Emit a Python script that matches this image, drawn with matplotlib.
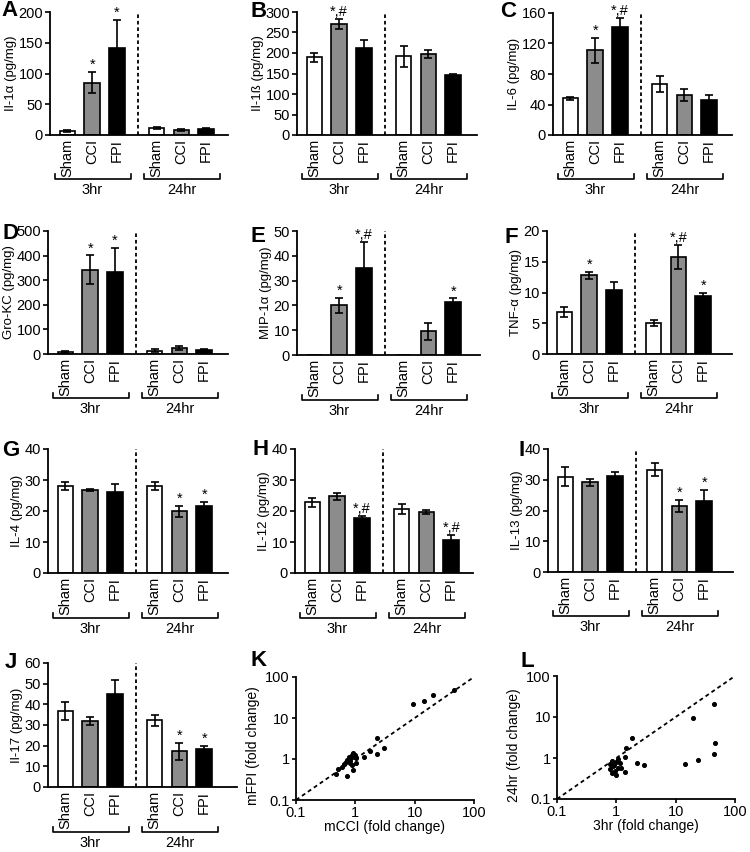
import matplotlib
matplotlib.use('Agg')
import matplotlib.pyplot as plt
import matplotlib.transforms as mtransforms
import matplotlib.ticker as mticker
import numpy as np

plt.rcParams['font.family'] = ['Liberation Sans', 'DejaVu Sans']

# ---------------- data ----------------
groups = ['Sham', 'CCI', 'FPI', 'Sham', 'CCI', 'FPI']
timepoints = ['3hr', '24hr']

il1a_mean = [6, 85, 142, 11, 8, 10]
il1a_sem = [1.5, 17, 45, 2, 2, 1]
il1a_sig = ['', '*', '*', '', '', '']

il1b_mean = [190, 270, 212, 192, 198, 146]
il1b_sem = [11, 12, 20, 26, 10, 4]
il1b_sig = ['', '*,#', '', '', '', '']

il6_mean = [48, 111, 141, 67, 52, 46]
il6_sem = [2, 16, 12, 10, 8, 6]
il6_sig = ['', '*', '*,#', '', '', '']

grokc_mean = [8, 343, 332, 14, 25, 17]
grokc_sem = [3, 58, 98, 5, 8, 3]
grokc_sig = ['', '*', '*', '', '', '']

mip1a_mean = [0, 20, 35, 0, 9.5, 21.5]
mip1a_sem = [0, 3, 10.5, 0, 3.5, 1.3]
mip1a_sig = ['', '*', '*,#', '', '', '*']

tnfa_mean = [6.8, 12.8, 10.4, 5.1, 15.8, 9.4]
tnfa_sem = [0.8, 0.6, 1.3, 0.5, 2.0, 0.6]
tnfa_sig = ['', '*', '', '', '*,#', '*']

il4_mean = [28.2, 26.8, 26.1, 28.1, 19.9, 21.7]
il4_sem = [1.3, 0.4, 2.5, 1.2, 1.8, 1.3]
il4_sig = ['', '', '', '', '*', '*']

il12_mean = [22.8, 24.7, 17.6, 20.6, 19.6, 10.8]
il12_sem = [1.5, 1.2, 0.7, 1.5, 0.7, 1.5]
il12_sig = ['', '', '*,#', '', '', '*,#']

il13_mean = [31.0, 29.2, 31.1, 33.3, 21.5, 23.2]
il13_sem = [3.0, 1.2, 1.5, 2.0, 2.0, 3.5]
il13_sig = ['', '', '', '', '*', '*']

il17_mean = [36.7, 32.1, 45.0, 32.2, 17.2, 18.3]
il17_sem = [4.5, 2.0, 7.0, 2.5, 4.0, 1.5]
il17_sig = ['', '', '', '', '*', '*']

# K: mCCI vs mFPI fold change
k_x = [9.5, 14.4, 20, 46, 2.3, 3.1, 1.8, 1.4, 2.3, 1.03, 0.93, 0.72, 0.48, 0.52,
       0.6, 0.65, 0.72, 0.8, 0.88, 0.93, 0.99, 0.82, 0.7, 1.03, 0.88, 0.96, 0.78]
k_y = [22.5, 26, 37, 49, 3.2, 1.9, 1.6, 1.13, 1.3, 0.81, 0.54, 0.38, 0.42, 0.56,
       0.65, 0.74, 0.94, 0.78, 1.24, 1.44, 1.24, 0.99, 0.85, 1.03, 0.7, 1.13, 1.1]

# L: 3hr vs 24hr fold change
l_x = [45, 19.3, 46, 44, 24, 14.3, 2.9, 2.27, 1.85, 1.48, 1.39, 1.07, 0.98, 0.85,
       0.77, 0.88, 1.14, 1.22, 1.39, 0.94, 1.0, 0.85, 0.77, 1.05, 0.92]
l_y = [21.3, 9.6, 2.28, 1.23, 0.9, 0.71, 0.68, 0.77, 3.0, 1.79, 1.03, 0.95, 0.78, 0.85,
       0.7, 0.64, 0.74, 0.56, 0.45, 0.49, 0.39, 0.43, 0.53, 0.58, 0.67]

# ---------------- layout ----------------
W, H = 750, 852
fig = plt.figure(figsize=(W / 100, H / 100), dpi=100)

TICK_FS = 10.5
LABEL_FS = 9.5


def add_ax(l, t, r, b):
    return fig.add_axes([l / W, 1 - b / H, (r - l) / W, (b - t) / H])


pos = [0, 1, 2, 3.6, 4.6, 5.6]
bar_colors = ['white', '#8c8c8c', 'black'] * 2
PX_PER_UNIT = 24.8


def style_spines(ax):
    for s in ['top', 'right']:
        ax.spines[s].set_visible(False)
    for s in ['left', 'bottom']:
        ax.spines[s].set_linewidth(1.3)


def bar_panel(box, mean, sem, sig, ymax, step, ylabel):
    l, t, r, b = box
    ax = add_ax(*box)
    xmax = -0.7 + (r - l) / PX_PER_UNIT
    ax.bar(pos, mean, width=0.63, color=bar_colors, edgecolor='black',
           linewidth=1.2, zorder=2)
    for p, m, e in zip(pos, mean, sem):
        if e > 0:
            ax.errorbar(p, m, yerr=e, color='black', capsize=3, elinewidth=1.2,
                        capthick=1.2, zorder=3)
    for p, m, e, s in zip(pos, mean, sem, sig):
        if s:
            ax.text(p, m + e, s, ha='center', va='bottom', fontsize=10.5)
    ax.axvline(2.85, color='black', ls=(0, (2, 1.6)), lw=1.3, zorder=1)
    ax.set_xlim(-0.7, xmax)
    ax.set_ylim(0, ymax)
    ax.set_yticks(np.arange(0, ymax + step / 2, step))
    ax.set_xticks(pos)
    ax.set_xticklabels(groups, rotation=90, fontsize=TICK_FS)
    ax.tick_params(axis='x', length=0, pad=3)
    ax.tick_params(axis='y', labelsize=TICK_FS, length=3.5, width=1.2, pad=1.5)
    ax.set_ylabel(ylabel, fontsize=LABEL_FS, labelpad=1)
    style_spines(ax)
    trans = mtransforms.blended_transform_factory(ax.transData, ax.transAxes)
    for (x0, x1, xc), lab in zip([(-0.5, 2.55, 1.0), (3.1, 6.15, 4.6)], timepoints):
        ax.plot([x0, x0, x1, x1], [-0.32, -0.36, -0.36, -0.32], color='black',
                lw=1.2, transform=trans, clip_on=False)
        ax.text(xc, -0.45, lab, transform=trans, ha='center', va='center', fontsize=TICK_FS)
    return ax


bar_panel((50, 12, 228, 135), il1a_mean, il1a_sem, il1a_sig, 200, 50, 'Il-1α (pg/mg)')
bar_panel((297, 12, 477, 135), il1b_mean, il1b_sem, il1b_sig, 300, 50, 'Il-1ß (pg/mg)')
bar_panel((553, 13, 732, 135), il6_mean, il6_sem, il6_sig, 160, 40, 'IL-6 (pg/mg)')
bar_panel((48, 231, 228, 354), grokc_mean, grokc_sem, grokc_sig, 500, 100, 'Gro-KC (pg/mg)')
bar_panel((297, 231, 480, 355), mip1a_mean, mip1a_sem, mip1a_sig, 50, 10, 'MIP-1α (pg/mg)')
bar_panel((547, 231, 732, 354), tnfa_mean, tnfa_sem, tnfa_sig, 20, 5, 'TNF-α (pg/mg)')
bar_panel((48, 449, 228, 573), il4_mean, il4_sem, il4_sig, 40, 10, 'IL-4 (pg/mg)')
bar_panel((295, 449, 473, 573), il12_mean, il12_sem, il12_sig, 40, 10, 'IL-12 (pg/mg)')
bar_panel((548, 449, 733, 572), il13_mean, il13_sem, il13_sig, 40, 10, 'IL-13 (pg/mg)')
bar_panel((48, 663, 237, 787), il17_mean, il17_sem, il17_sig, 60, 10, 'Il-17 (pg/mg)')


def scatter_panel(box, x, y, xlabel, ylabel):
    ax = add_ax(*box)
    ax.set_xscale('log')
    ax.set_yscale('log')
    ax.set_xlim(0.1, 100)
    ax.set_ylim(0.1, 100)
    ax.plot([0.1, 100], [0.1, 100], color='black', ls=(0, (2.2, 1.8)), lw=1.3)
    ax.scatter(x, y, s=7, color='black', zorder=3)
    for axis in [ax.xaxis, ax.yaxis]:
        axis.set_major_locator(mticker.FixedLocator([0.1, 1, 10, 100]))
        axis.set_major_formatter(mticker.FixedFormatter(['0.1', '1', '10', '100']))
        axis.set_minor_locator(mticker.NullLocator())
    ax.tick_params(labelsize=TICK_FS, length=3, width=1.2, pad=1.5)
    ax.set_xlabel(xlabel, fontsize=10, labelpad=0)
    ax.set_ylabel(ylabel, fontsize=10, labelpad=1)
    ax.yaxis.set_label_coords(-0.2, 0.44)
    style_spines(ax)
    return ax


scatter_panel((296, 677, 474, 800), k_x, k_y, 'mCCI (fold change)', 'mFPI (fold change)')
scatter_panel((557, 676, 735, 799), l_x, l_y, '3hr (fold change)', '24hr (fold change)')

letters = [('A', 1, 0), ('B', 250, 1), ('C', 500, 1), ('D', 2, 223), ('E', 250, 226),
           ('F', 504, 227), ('G', 2, 440), ('H', 252, 439), ('I', 518, 440),
           ('J', 5, 652), ('K', 250, 650), ('L', 521, 651)]
for lab, x, y in letters:
    fig.text(x / W, 1 - y / H, lab, fontsize=16, fontweight='bold', ha='left', va='top')

fig.savefig('out.png', dpi=100)
